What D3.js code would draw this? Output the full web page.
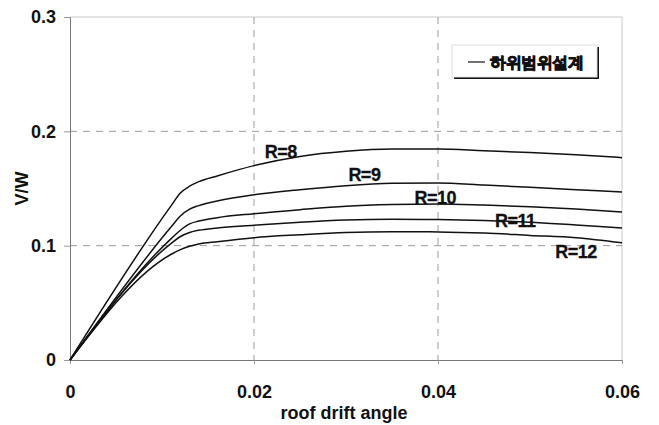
<!DOCTYPE html>
<html>
<head>
<meta charset="utf-8">
<script src="https://cdn.jsdelivr.net/npm/d3@7"></script>
<style>
  body { margin: 0; background: #fff; }
  text { font-family: Arial, "Liberation Sans", sans-serif; font-weight: bold; fill: #111; }
</style>
</head>
<body>
<div id="chart-area"></div>
<script>
// drift angles shared by every curve
var drift = [0, 0.011, 0.012, 0.013, 0.014, 0.016, 0.02, 0.025, 0.03, 0.035, 0.04, 0.045, 0.05, 0.055, 0.06];

var vwR8  = [0, 0.135, 0.146, 0.152, 0.156, 0.161, 0.170, 0.178, 0.1825, 0.1845, 0.1845, 0.183, 0.1815, 0.1795, 0.1770];
var vwR9  = [0, 0.1165, 0.126, 0.132, 0.135, 0.139, 0.1445, 0.149, 0.1525, 0.1545, 0.1548, 0.153, 0.151, 0.149, 0.147];
var vwR10 = [0, 0.1062, 0.1135, 0.119, 0.1215, 0.1245, 0.128, 0.1315, 0.1345, 0.136, 0.1365, 0.1355, 0.134, 0.132, 0.1295];
var vwR11 = [0, 0.102, 0.108, 0.1115, 0.1135, 0.1155, 0.1178, 0.1205, 0.1225, 0.1232, 0.1228, 0.122, 0.1205, 0.118, 0.1155];
var vwR12 = [0, 0.0925, 0.0965, 0.0995, 0.1015, 0.1035, 0.107, 0.1095, 0.1115, 0.1122, 0.112, 0.111, 0.109, 0.107, 0.1025];

var seriesNames = ['R=8', 'R=9', 'R=10', 'R=11', 'R=12'];
// where each label sits (drift, V/W at baseline)
var labelDrift = [0.0229, 0.0320, 0.0397, 0.0484, 0.0550];
var labelVW    = [0.1767, 0.1568, 0.1364, 0.1160, 0.0892];

var xTicks = [0, 0.02, 0.04, 0.06];
var yTicks = [0, 0.1, 0.2, 0.3];
var legendText = '하위범위설계';

var margin = { top: 17, right: 37, bottom: 65, left: 70 },
  width = 659 - margin.left - margin.right,
  height = 425 - margin.top - margin.bottom;

var svg = d3.select('#chart-area')
  .append('svg')
    .attr('width', 659)
    .attr('height', 425);

var g = svg.append('g')
  .attr('transform', 'translate(' + margin.left + ', ' + margin.top + ')');

var xScale = d3.scaleLinear().domain([0, 0.06]).range([0, width]);
var yScale = d3.scaleLinear().domain([0, 0.3]).range([height, 0]);

// frame (top and right, light)
g.append('path')
  .attr('d', 'M0,0H' + width + 'V' + height)
  .attr('fill', 'none')
  .attr('stroke', '#c8c8c8');

// dashed grid
g.selectAll('.hgrid')
  .data([0.1, 0.2])
  .enter().append('line')
    .attr('x1', 0).attr('x2', width)
    .attr('y1', d => yScale(d)).attr('y2', d => yScale(d))
    .attr('stroke', '#9a9a9a')
    .attr('stroke-dasharray', '7,6');

g.selectAll('.vgrid')
  .data([0.02, 0.04])
  .enter().append('line')
    .attr('x1', d => xScale(d)).attr('x2', d => xScale(d))
    .attr('y1', 0).attr('y2', height)
    .attr('stroke', '#9a9a9a')
    .attr('stroke-dasharray', '7,6');

// axes
var xAxisCall = d3.axisBottom(xScale)
  .tickValues(xTicks)
  .tickSize(4)
  .tickPadding(21)
  .tickFormat(d => d === 0 ? '0' : d3.format('.2f')(d));

var xAxisGroup = g.append('g')
  .attr('transform', 'translate(0, ' + height + ')')
  .call(xAxisCall);

var yAxisCall = d3.axisLeft(yScale)
  .tickValues(yTicks)
  .tickSize(6)
  .tickPadding(8)
  .tickFormat(d => d === 0 ? '0' : d3.format('.1f')(d));

var yAxisGroup = g.append('g').call(yAxisCall);

[xAxisGroup, yAxisGroup].forEach(ax => {
  ax.select('.domain').attr('stroke', '#777');
  ax.selectAll('.tick line').attr('stroke', '#999');
  ax.selectAll('.tick text')
    .attr('font-size', '18px')
    .attr('font-family', 'Arial, "Liberation Sans", sans-serif')
    .attr('font-weight', 'bold')
    .attr('fill', '#111');
});

// axis titles
g.append('text')
  .attr('x', width / 2 - 2)
  .attr('y', height + 59)
  .attr('text-anchor', 'middle')
  .attr('font-size', '18px')
  .text('roof drift angle');

g.append('text')
  .attr('x', -yScale(0.15))
  .attr('y', -42)
  .attr('text-anchor', 'middle')
  .attr('transform', 'rotate(-90)')
  .attr('font-size', '18px')
  .text('V/W');

// curves
var allSeries = [vwR8, vwR9, vwR10, vwR11, vwR12];

var line = d3.line()
  .x((d, i) => xScale(drift[i]))
  .y(d => yScale(d))
  .curve(d3.curveMonotoneX);

g.selectAll('.curve')
  .data(allSeries)
  .enter().append('path')
    .attr('class', 'curve')
    .attr('d', line)
    .attr('fill', 'none')
    .attr('stroke', '#111')
    .attr('stroke-width', 1.5);

g.selectAll('.rlabel')
  .data(seriesNames)
  .enter().append('text')
    .attr('x', (d, i) => xScale(labelDrift[i]))
    .attr('y', (d, i) => yScale(labelVW[i]))
    .attr('text-anchor', 'middle')
    .attr('font-size', '18px')
    .attr('letter-spacing', '-0.5px')
    .attr('stroke', '#111')
    .attr('stroke-width', 0.3)
    .text(d => d);

// legend box with shadow
var legend = svg.append('g').attr('transform', 'translate(452, 45)');

legend.append('rect')
  .attr('x', 2).attr('y', 2)
  .attr('width', 145).attr('height', 32)
  .attr('fill', '#111');

legend.append('rect')
  .attr('width', 145).attr('height', 32)
  .attr('fill', '#fff')
  .attr('stroke', '#ddd');

legend.append('line')
  .attr('x1', 16).attr('x2', 33)
  .attr('y1', 17).attr('y2', 17)
  .attr('stroke', '#111')
  .attr('stroke-width', 1.2);

legend.append('text')
  .attr('x', 38)
  .attr('y', 23)
  .attr('font-family', '"Noto Sans CJK KR", sans-serif')
  .attr('font-weight', 'bold')
  .attr('font-size', '16px')
  .attr('letter-spacing', '-0.5px')
  .attr('stroke', '#111')
  .attr('stroke-width', 0.9)
  .text(legendText);
</script>
</body>
</html>
